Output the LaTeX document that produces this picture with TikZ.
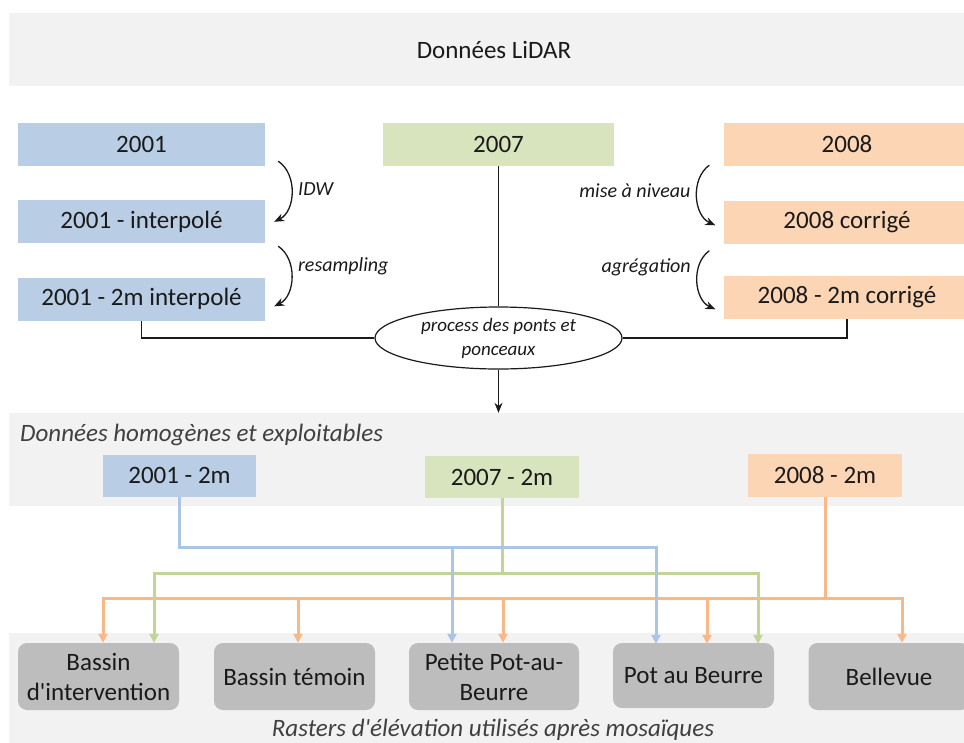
\documentclass[tikz,border=0pt]{standalone}
\usepackage{fontspec}
\setmainfont{Carlito}
\usetikzlibrary{arrows.meta,positioning,shapes.geometric,calc}
\definecolor{ink}{HTML}{1A1A1A}
\definecolor{inkgray}{HTML}{404040}
\definecolor{bandgray}{HTML}{F2F2F2}
\definecolor{sitegray}{HTML}{BDBDBD}
\definecolor{blubg}{HTML}{B9CDE5}
\definecolor{grnbg}{HTML}{D7E4BD}
\definecolor{orgbg}{HTML}{FCD5B5}
\definecolor{wireblue}{HTML}{ABC5E6}
\definecolor{wiregreen}{HTML}{C0D597}
\definecolor{wireorange}{HTML}{F9B886}
\newcommand{\boxtxt}{\fontsize{25}{30}\selectfont}
\newcommand{\lbltxt}{\fontsize{20}{24}\selectfont\itshape}
\newcommand{\ovaltxt}{\fontsize{19}{24}\selectfont\itshape}
\tikzset{
  band/.style={fill=bandgray,inner sep=0pt},
  yearcard/.style={inner sep=0pt,minimum height=43pt,text=ink,font=\boxtxt},
  bluecard/.style={yearcard,fill=blubg},
  greencard/.style={yearcard,fill=grnbg},
  orangecard/.style={yearcard,fill=orgbg},
  sitecard/.style={fill=sitegray,rounded corners=9pt,minimum width=161pt,
                   minimum height=67pt,inner sep=0pt,align=center,text=ink,
                   font=\boxtxt},
  procoval/.style={ellipse,draw=ink,fill=white,line width=1.2pt,
                   minimum width=247pt,minimum height=62pt,inner sep=0pt,
                   align=center,text=ink,font=\ovaltxt},
  steparr/.style={-{Stealth[length=10pt,width=8pt]},line width=1.3pt,draw=ink},
  steplabel/.style={font=\lbltxt,text=ink,inner sep=6pt},
  plainline/.style={line width=1.3pt,draw=ink},
  downarr/.style={plainline,-{Stealth[length=10pt,width=8pt]}},
  wire/.style={line width=3pt,>={Triangle[length=9pt,width=9pt]}},
  bluewire/.style={wire,draw=wireblue},
  greenwire/.style={wire,draw=wiregreen},
  orangewire/.style={wire,draw=wireorange}
}
\begin{document}
\begin{tikzpicture}[x=1pt,y=-1pt]
  \path[use as bounding box,fill=white] (0,0) rectangle (964,742);
  % bands
  \node[band,minimum width=970pt,minimum height=73pt,font=\boxtxt,text=ink] (lidar) at (494,49.5) {Données LiDAR};
  \node[band,minimum width=970pt,minimum height=93pt] (hband) at (494,459.5) {};
  \node[band,minimum width=970pt,minimum height=127pt] (rband) at (494,696.5) {};
  \node[font=\boxtxt\itshape,text=inkgray,anchor=west,inner sep=0pt] (hlabel) at (20,435) {Données homogènes et exploitables};
  \node[font=\boxtxt\itshape,text=inkgray,inner sep=0pt] (rlabel) at (493,729.5) {Rasters d\textquotesingle élévation utilisés après mosaïques};

  % raw LiDAR data
  \node[bluecard,minimum width=247pt] (y2001) at (141.5,144.5) {2001};
  \node[greencard,minimum width=231pt] (y2007) at (498.5,144.5) {2007};
  \node[orangecard,minimum width=247pt] (y2008) at (847,144.5) {2008};
  \node[bluecard,minimum width=247pt] (y2001i) at (141.5,221.5) {2001 - interpolé};
  \node[bluecard,minimum width=247pt] (y2001m) at (141.5,299) {2001 - 2m interpolé};
  \node[orangecard,minimum width=247pt] (y2008c) at (847,222) {2008 corrigé};
  \node[orangecard,minimum width=247pt] (y2008m) at (847,297.5) {2008 - 2m corrigé};
  \node[procoval] (proc) at (498.5,338) {process des ponts et\\ponceaux};

  \draw[steparr] ($(y2001.south east)+(13,-5)$) to[bend left=60]
    node[steplabel,right,yshift=3pt] {IDW} ($(y2001i.north east)+(9,22)$);
  \draw[steparr] ($(y2001i.south east)+(13,3)$) to[bend left=60]
    node[steplabel,right,yshift=11pt] {resampling} ($(y2001m.north east)+(9,29)$);
  \draw[steparr] ($(y2008.south west)+(-14,-1)$) to[bend right=60]
    node[steplabel,left,yshift=6pt] {mise à niveau} ($(y2008c.north west)+(-8,25)$);
  \draw[steparr] ($(y2008c.south west)+(-14,7)$) to[bend right=60]
    node[steplabel,left,yshift=14pt] {agrégation} ($(y2008m.north west)+(-8,33.5)$);

  \draw[plainline] (y2001m.south) |- (proc.west);
  \draw[plainline] (y2008m.south) |- (proc.east);
  \draw[plainline] (y2007.south) -- (proc.north);
  \draw[downarr] (proc.south) -- (proc.south |- hband.north);

  % homogeneous data
  \node[bluecard,minimum width=153pt,minimum height=42pt] (h2001) at (179.5,475.5) {2001 - 2m};
  \node[greencard,minimum width=154pt,minimum height=42pt] (h2007) at (502,477) {2007 - 2m};
  \node[orangecard,minimum width=154pt] (h2008) at (825,475.5) {2008 - 2m};

  % sites
  \node[sitecard] (bint) at (98.5,676.5) {Bassin\\d\textquotesingle intervention};
  \node[sitecard] (btem) at (294.5,676.5) {Bassin témoin};
  \node[sitecard,minimum width=170pt] (petite) at (494,676.5) {Petite Pot-au-\\Beurre};
  \node[sitecard,minimum height=65pt] (potb) at (693.5,675.5) {Pot au Beurre};
  \node[sitecard] (bel) at (889,676.5) {Bellevue};

  \coordinate (inA) at ($(bint.north)+(4.5,0)$);
  \coordinate (inB) at ($(bint.north)+(55.5,0)$);
  \coordinate (temA) at ($(btem.north)+(3.5,0)$);
  \coordinate (petA) at ($(petite.north)+(-42,0)$);
  \coordinate (petB) at ($(petite.north)+(9,0)$);
  \coordinate (potA) at ($(potb.north)+(-37.5,1)$);
  \coordinate (potB) at ($(potb.north)+(13.5,1)$);
  \coordinate (potC) at ($(potb.north)+(64.5,1)$);
  \coordinate (belA) at ($(bel.north)+(13,0)$);
  \coordinate (bluebus) at ($(h2001.south)+(0,51)$);
  \coordinate (greenbus) at ($(h2007.south)+(0,75)$);
  \coordinate (orangebus) at ($(h2008.south)+(0,101)$);

  \draw[orangewire] (h2008.south) -- (orangebus);
  \draw[orangewire,<->] (inA) |- (orangebus) -| (belA);
  \foreach \t in {temA,petB,potB}
    \draw[orangewire,->] (\t |- orangebus) -- (\t);
  \draw[greenwire] (h2007.south) -- (greenbus);
  \draw[greenwire,<->] (inB) |- (greenbus) -| (potC);
  \draw[bluewire,->] (h2001.south) -- (bluebus) -| (potA);
  \draw[bluewire,->] (petA |- bluebus) -- (petA);
\end{tikzpicture}
\end{document}
